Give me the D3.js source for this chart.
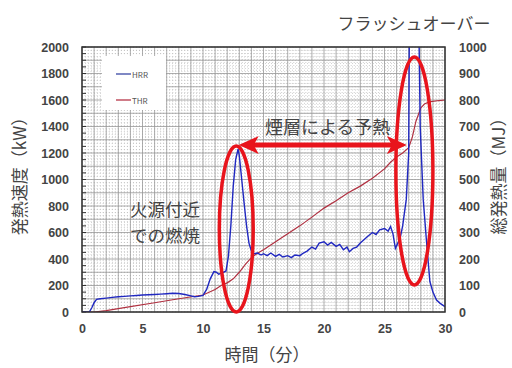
<!DOCTYPE html>
<html>
<head>
<meta charset="utf-8">
<script src="https://cdn.jsdelivr.net/npm/d3@7"></script>
<style>
  body { margin: 0; background: #fff; }
  svg { font-family: "Noto Sans CJK JP", "Noto Sans", sans-serif; }
</style>
</head>
<body>
<svg width="512" height="368"></svg>
<script>
// HRR (kW) vs time (min)
const hrrTime = [0, 0.6, 0.8, 1.0, 1.2, 1.5, 2, 2.5, 3, 3.5, 4, 4.5, 5, 5.5, 6, 6.5, 7, 7.5, 8, 8.5, 9, 9.3, 9.6, 10,
  10.3, 10.6, 10.9, 11.1, 11.3, 11.6, 11.9, 12.1, 12.3, 12.5, 12.7, 12.9, 13.0, 13.2, 13.4, 13.6, 13.8, 14.0,
  14.2, 14.5, 14.8, 15, 15.3, 15.6, 16, 16.3, 16.6, 17, 17.3, 17.6, 18, 18.3, 18.6, 19, 19.3, 19.6, 20, 20.3,
  20.6, 21, 21.3, 21.6, 21.9, 22.1, 22.4, 22.7, 23, 23.3, 23.6, 24, 24.3, 24.6, 25, 25.3, 25.5, 25.7, 25.9,
  26.1, 26.3, 26.5, 26.8, 27.0, 27.05, 27.85, 27.95, 28.2, 28.5, 28.75, 29, 29.3, 29.6, 30];
const hrrValue = [0, 0, 30, 70, 95, 100, 105, 110, 115, 118, 122, 125, 128, 130, 132, 135, 138, 142, 140, 132, 122, 115, 118, 125,
  170, 250, 305, 300, 285, 295, 310, 420, 650, 950, 1150, 1230, 1180, 1000, 820, 650, 520, 460,
  440, 445, 430, 440, 425, 445, 420, 435, 415, 425, 410, 430, 425, 445, 460, 490, 475, 520, 530, 505,
  525, 495, 510, 470, 490, 455, 480, 490, 520, 545, 570, 600, 585, 620, 630, 610, 645, 590, 480,
  520, 560, 650, 850, 1200, 2100, 2100, 1400, 850, 500, 230, 150, 90, 65, 40];

// THR (MJ) vs time (min)
const thrTime = [0, 1, 2, 4, 6, 8, 10, 11, 11.5, 12, 12.5, 13, 13.5, 14, 14.5, 15, 16, 17, 18, 19, 20, 21, 22, 23, 24,
  25, 25.5, 26, 26.5, 27, 27.3, 27.6, 28, 28.3, 28.7, 29.5, 30];
const thrValue = [0, 0, 5, 20, 35, 50, 64, 85, 100, 110, 125, 150, 180, 205, 222, 235, 265, 295, 325, 358, 392, 420, 450, 475, 505,
  540, 565, 585, 600, 620, 660, 720, 770, 785, 793, 798, 800];

const xTicks = [0, 5, 10, 15, 20, 25, 30];
const leftTicks = [0, 200, 400, 600, 800, 1000, 1200, 1400, 1600, 1800, 2000];
const rightTicks = [0, 100, 200, 300, 400, 500, 600, 700, 800, 900, 1000];

const svg = d3.select('svg');
const pl = 82, pr = 445, pt = 47, pb = 312;

const x = d3.scaleLinear().domain([0, 30]).range([pl, pr]);
const yL = d3.scaleLinear().domain([0, 2000]).range([pb, pt]);
const yR = d3.scaleLinear().domain([0, 1000]).range([pb, pt]);

svg.append('defs').append('clipPath').attr('id', 'clip')
  .append('rect').attr('x', pl).attr('y', pt).attr('width', pr - pl).attr('height', pb - pt);

// grid
const grid = svg.append('g');
grid.selectAll('.vminor').data(d3.range(0, 30.01, 0.25)).join('line')
  .attr('x1', d => x(d)).attr('x2', d => x(d)).attr('y1', pt).attr('y2', pb)
  .attr('stroke', '#bbb').attr('stroke-width', 0.7).attr('stroke-dasharray', '1,2');
grid.selectAll('.hminor').data(d3.range(0, 2001, 25)).join('line')
  .attr('x1', pl).attr('x2', pr).attr('y1', d => yL(d)).attr('y2', d => yL(d))
  .attr('stroke', '#bbb').attr('stroke-width', 0.7).attr('stroke-dasharray', '1,2');
grid.selectAll('.vmajor').data(d3.range(0, 31, 1)).join('line')
  .attr('x1', d => x(d)).attr('x2', d => x(d)).attr('y1', pt).attr('y2', pb)
  .attr('stroke', '#999').attr('stroke-width', 0.8);
grid.selectAll('.hmajor').data(d3.range(0, 2001, 100)).join('line')
  .attr('x1', pl).attr('x2', pr).attr('y1', d => yL(d)).attr('y2', d => yL(d))
  .attr('stroke', '#999').attr('stroke-width', 0.8);

// inner tick marks on left edge
svg.append('g').selectAll('line').data(d3.range(0, 2001, 50)).join('line')
  .attr('x1', pl).attr('x2', pl + 4).attr('y1', d => yL(d)).attr('y2', d => yL(d))
  .attr('stroke', '#333').attr('stroke-width', 1);

// legend box
const lg = svg.append('g');
lg.append('rect').attr('x', 102).attr('y', 56).attr('width', 64).attr('height', 54).attr('fill', '#fff');
lg.append('line').attr('x1', 116).attr('x2', 131).attr('y1', 74).attr('y2', 74).attr('stroke', '#5560b0').attr('stroke-width', 1.5);
lg.append('text').attr('x', 132).attr('y', 77.5).text('HRR').attr('font-size', 8).attr('fill', '#555');
lg.append('line').attr('x1', 116).attr('x2', 131).attr('y1', 100).attr('y2', 100).attr('stroke', '#c05060').attr('stroke-width', 1.5);
lg.append('text').attr('x', 132).attr('y', 103.5).text('THR').attr('font-size', 8).attr('fill', '#555');

// series
const plot = svg.append('g').attr('clip-path', 'url(#clip)');
plot.append('path')
  .datum(thrTime.map((t, i) => [t, thrValue[i]]))
  .attr('d', d3.line().x(d => x(d[0])).y(d => yR(d[1])))
  .attr('fill', 'none').attr('stroke', '#b03040').attr('stroke-width', 1.2);
plot.append('path')
  .datum(hrrTime.map((t, i) => [t, hrrValue[i]]))
  .attr('d', d3.line().x(d => x(d[0])).y(d => yL(d[1])))
  .attr('fill', 'none').attr('stroke', '#2028c0').attr('stroke-width', 1.4);

// frame
svg.append('rect').attr('x', pl).attr('y', pt).attr('width', pr - pl).attr('height', pb - pt)
  .attr('fill', 'none').attr('stroke', '#333').attr('stroke-width', 1.5);

// axes
const fmt = d3.format('d');
const xAxis = svg.append('g').attr('transform', `translate(0,${pb})`)
  .call(d3.axisBottom(x).tickValues(xTicks).tickFormat(fmt).tickSize(0).tickPadding(12));
const lAxis = svg.append('g').attr('transform', `translate(${pl},0)`)
  .call(d3.axisLeft(yL).tickValues(leftTicks).tickFormat(fmt).tickSize(0).tickPadding(13));
const rAxis = svg.append('g').attr('transform', `translate(${pr},0)`)
  .call(d3.axisRight(yR).tickValues(rightTicks).tickFormat(fmt).tickSize(0).tickPadding(14));
[xAxis, lAxis, rAxis].forEach(a => {
  a.select('.domain').remove();
  a.selectAll('text').attr('font-size', 12.5).attr('font-weight', 'bold').attr('fill', '#444')
    .attr('font-family', '"Liberation Sans", Arial, sans-serif');
});

// axis titles
svg.append('text').attr('x', 267).attr('y', 361).attr('text-anchor', 'middle')
  .attr('font-size', 17).attr('fill', '#444').text('時間（分）');
svg.append('text').attr('transform', 'translate(26,172) rotate(-90)').attr('text-anchor', 'middle')
  .attr('font-size', 17).attr('fill', '#444').text('発熱速度（kW）');
svg.append('text').attr('transform', 'translate(505,172) rotate(-90)').attr('text-anchor', 'middle')
  .attr('font-size', 17).attr('fill', '#444').text('総発熱量（MJ）');

// annotations
const red = '#e8141c';
const ann = svg.append('g');
ann.append('ellipse').attr('cx', x(12.75)).attr('cy', yL(626))
  .attr('rx', x(1.4) - x(0)).attr('ry', yL(0) - yL(626))
  .attr('fill', 'none').attr('stroke', red).attr('stroke-width', 3.5);
ann.append('ellipse').attr('cx', x(27.47)).attr('cy', yL(1064))
  .attr('rx', x(1.53) - x(0)).attr('ry', yL(0) - yL(860))
  .attr('fill', 'none').attr('stroke', red).attr('stroke-width', 3.5);

const ay = yL(1260), ax1 = x(12.95), ax2 = x(26.85);
ann.append('line').attr('x1', ax1 + 14).attr('x2', ax2 - 14).attr('y1', ay).attr('y2', ay)
  .attr('stroke', red).attr('stroke-width', 5);
ann.append('path').attr('d', `M${ax1},${ay} L${ax1 + 20},${ay - 9} L${ax1 + 15},${ay} L${ax1 + 20},${ay + 9} Z`).attr('fill', red);
ann.append('path').attr('d', `M${ax2},${ay} L${ax2 - 20},${ay - 9} L${ax2 - 15},${ay} L${ax2 - 20},${ay + 9} Z`).attr('fill', red);

ann.append('text').attr('x', x(20.3)).attr('y', yL(1340)).attr('text-anchor', 'middle')
  .attr('font-size', 18).attr('fill', '#444').text('煙層による予熱');
ann.append('text').attr('x', 130).attr('y', 216).attr('font-size', 17.5).attr('fill', '#444').text('火源付近');
ann.append('text').attr('x', 130).attr('y', 242).attr('font-size', 17.5).attr('fill', '#444').text('での燃焼');
ann.append('text').attr('x', 414).attr('y', 30).attr('text-anchor', 'middle')
  .attr('font-size', 17).attr('fill', '#444').text('フラッシュオーバー');
</script>
</body>
</html>
